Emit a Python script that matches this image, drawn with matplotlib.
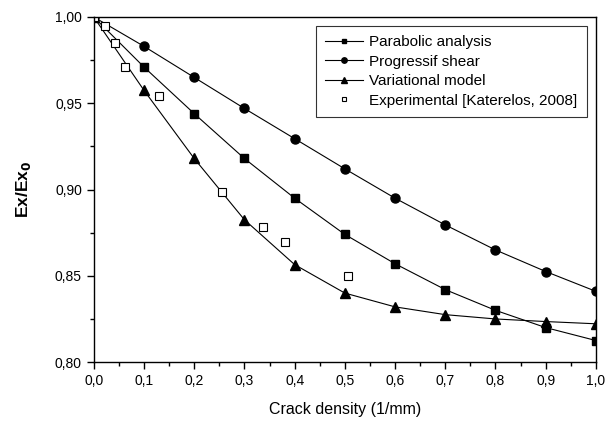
import matplotlib
matplotlib.use("Agg")
import matplotlib.pyplot as plt
from matplotlib.ticker import FuncFormatter, MultipleLocator

plt.rcParams["font.family"] = ["Liberation Sans", "DejaVu Sans"]

# Densidade de fissuras (1/mm)
densidade = [0.0, 0.1, 0.2, 0.3, 0.4, 0.5, 0.6, 0.7, 0.8, 0.9, 1.0]

parabolic = [1.000, 0.971, 0.944, 0.918, 0.895, 0.874, 0.857, 0.842, 0.830, 0.820, 0.8125]
progressif = [1.000, 0.983, 0.965, 0.947, 0.9295, 0.912, 0.895, 0.8795, 0.865, 0.8525, 0.841]
variational = [1.000, 0.9575, 0.918, 0.8825, 0.8565, 0.840, 0.832, 0.8275, 0.825, 0.8235, 0.8222]

exp_x = [0.0, 0.022, 0.042, 0.0625, 0.13, 0.255, 0.337, 0.380, 0.507]
exp_y = [1.000, 0.9945, 0.985, 0.971, 0.9545, 0.8985, 0.8785, 0.8695, 0.8497]


def virgula(v, pos, casas):
    return f"{v:.{casas}f}".replace(".", ",")


fig = plt.figure(figsize=(6.05, 4.25), dpi=100)
ax = fig.add_axes([0.155, 0.148, 0.83, 0.812])

ax.plot(densidade, parabolic, "-s", color="black", lw=0.8, ms=6, label="Parabolic analysis")
ax.plot(densidade, progressif, "-o", color="black", lw=0.8, ms=6.5, label="Progressif shear")
ax.plot(densidade, variational, "-^", color="black", lw=0.8, ms=7, label="Variational model")
ax.plot(exp_x, exp_y, "s", color="black", mfc="white", mew=0.8, ms=6,
        label="Experimental [Katerelos, 2008]")

ax.set_xlim(0, 1.0)
ax.set_ylim(0.80, 1.00)
ax.xaxis.set_major_locator(MultipleLocator(0.1))
ax.xaxis.set_minor_locator(MultipleLocator(0.05))
ax.yaxis.set_major_locator(MultipleLocator(0.05))
ax.yaxis.set_minor_locator(MultipleLocator(0.025))
ax.xaxis.set_major_formatter(FuncFormatter(lambda v, p: virgula(v, p, 1)))
ax.yaxis.set_major_formatter(FuncFormatter(lambda v, p: virgula(v, p, 2)))
ax.tick_params(which="major", direction="out", length=5, width=1, labelsize=10)
ax.tick_params(which="minor", direction="out", length=3, width=1)
for sp in ax.spines.values():
    sp.set_linewidth(1.0)

ax.set_xlabel("Crack density (1/mm)", fontsize=11.5, labelpad=10)
ax.set_ylabel("Ex/Ex$_\\mathbf{0}$", fontsize=12.5, fontweight="bold", labelpad=16)

leg = ax.legend(loc="upper right", bbox_to_anchor=(0.982, 0.974), borderaxespad=0,
                fontsize=11, frameon=True, fancybox=False, edgecolor="black",
                handlelength=2.5, borderpad=0.6, labelspacing=0.36, handletextpad=0.4,
                markerscale=0.6)
leg.get_frame().set_linewidth(0.8)

fig.savefig("out.png", dpi=100)
